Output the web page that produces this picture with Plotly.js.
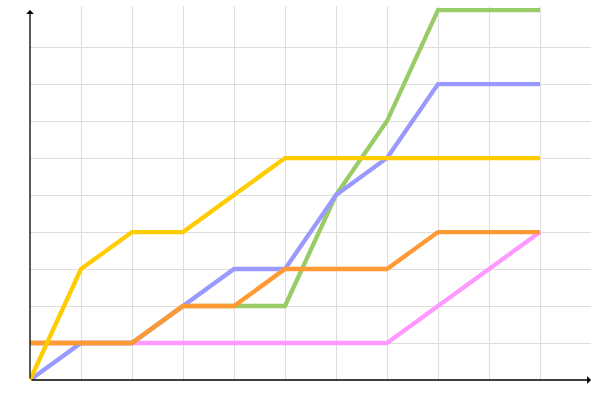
<!DOCTYPE html>
<html>
<head>
<meta charset="utf-8">
<script src="https://cdn.plot.ly/plotly-3.0.1.min.js"></script>
<style>html,body{margin:0;padding:0;background:#fff;}#chart{width:600px;height:400px;}</style>
</head>
<body>
<div id="chart"></div>
<script>
const xValues = [0, 1, 2, 3, 4, 5, 6, 7, 8, 9, 10];
const pinkSeries   = [1, 1, 1, 1, 1, 1, 1, 1, 2, 3, 4];
const greenSeries  = [1, 1, 1, 2, 2, 2, 5, 7, 10, 10, 10];
const blueSeries   = [0, 1, 1, 2, 3, 3, 5, 6, 8, 8, 8];
const orangeSeries = [1, 1, 1, 2, 2, 3, 3, 3, 4, 4, 4];
const yellowSeries = [0, 3, 4, 4, 5, 6, 6, 6, 6, 6, 6];
const xGridVals = [1, 2, 3, 4, 5, 6, 7, 8, 9, 10];
const yGridVals = [1, 2, 3, 4, 5, 6, 7, 8, 9];

function line(y, color) {
  return {x: xValues, y: y, type: 'scatter', mode: 'lines', cliponaxis: false,
          line: {color: color, width: 4.3}, hoverinfo: 'none', showlegend: false};
}

const data = [
  line(pinkSeries, '#ff99ff'),
  line(greenSeries, '#99cc66'),
  line(blueSeries, '#9999ff'),
  line(orangeSeries, '#ff9933'),
  line(yellowSeries, '#ffcc00')
];

const layout = {
  width: 600, height: 400,
  margin: {l: 30, r: 9, t: 6, b: 20},
  paper_bgcolor: '#fff', plot_bgcolor: '#fff',
  showlegend: false,
  xaxis: {range: [0, 11], tickvals: xGridVals, showticklabels: false, ticks: '',
          showgrid: true, gridcolor: '#dddddd', gridwidth: 1, zeroline: false, showline: false, fixedrange: true},
  yaxis: {range: [0, 10.11], tickvals: yGridVals, showticklabels: false, ticks: '',
          showgrid: true, gridcolor: '#dddddd', gridwidth: 1, zeroline: false, showline: false, fixedrange: true},
  annotations: [
    {x: 11, y: 0, ax: 0, ay: 0, xref: 'x', yref: 'y', axref: 'x', ayref: 'y', text: '',
     showarrow: true, arrowhead: 1, arrowsize: 1, arrowwidth: 1.3, arrowcolor: '#000'},
    {x: 0, y: 10, ax: 0, ay: 0, xref: 'x', yref: 'y', axref: 'x', ayref: 'y', text: '',
     showarrow: true, arrowhead: 1, arrowsize: 1, arrowwidth: 1.3, arrowcolor: '#000'}
  ]
};

Plotly.newPlot('chart', data, layout, {displayModeBar: false, staticPlot: true});
</script>
</body>
</html>
